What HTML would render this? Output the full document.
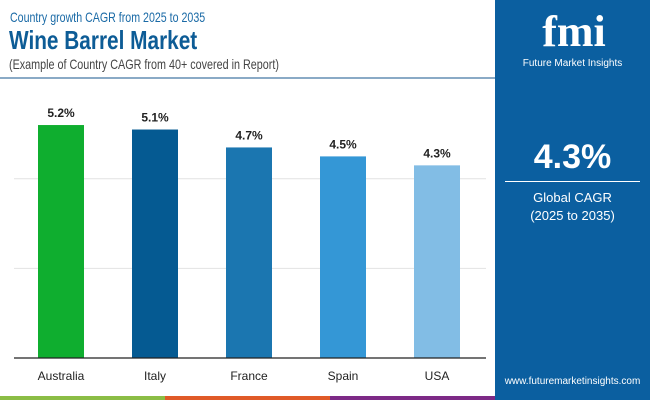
<!DOCTYPE html>
<html><head><meta charset="utf-8"><style>
body{margin:0;width:650px;height:400px;overflow:hidden;background:#fff;font-family:"Liberation Sans",sans-serif;position:relative}
.a{position:absolute}
.s{transform-origin:0 0;white-space:nowrap}
</style></head><body>
<div class="a s" style="left:10px;top:9px;font-size:14px;color:#1a6aa6;transform:scaleX(0.76)">Country growth CAGR from 2025 to 2035</div>
<div class="a s" style="left:9px;top:25px;font-size:26px;font-weight:bold;color:#0d5c96;transform:scaleX(0.8)">Wine Barrel Market</div>
<div class="a s" style="left:9px;top:56px;font-size:14px;color:#444;transform:scaleX(0.77)">(Example of Country CAGR from 40+ covered in Report)</div>
<div class="a" style="left:0;top:77px;width:495px;height:2px;background:#8aaac6"></div>
<div class="a" style="left:495px;top:0;width:155px;height:400px;background:#0b5fa0"></div>
<div class="a" style="left:518px;top:8px;width:112px;text-align:center;color:#fff;font-size:44px;font-weight:bold;font-family:'Liberation Serif',serif;line-height:48px">fmi</div>
<div class="a" style="left:505px;top:58px;width:135px;text-align:center;color:#fff;font-size:10px">Future Market Insights</div>
<div class="a" style="left:495px;top:138px;width:155px;text-align:center;color:#fff;font-size:34px;font-weight:bold">4.3%</div>
<div class="a" style="left:505px;top:181px;width:135px;height:1px;background:#fff"></div>
<div class="a" style="left:495px;top:189px;width:155px;text-align:center;color:#fff;font-size:13px;line-height:18px">Global CAGR<br>(2025 to 2035)</div>
<div class="a" style="left:495px;top:376px;width:155px;text-align:center;color:#fff;font-size:10px">www.futuremarketinsights.com</div>
<div class="a" style="left:0;top:396px;width:165px;height:4px;background:#8bbd45"></div>
<div class="a" style="left:165px;top:396px;width:165px;height:4px;background:#e05a28"></div>
<div class="a" style="left:330px;top:396px;width:165px;height:4px;background:#7d2a86"></div>
<svg class="a" style="left:0;top:0" width="495" height="396">
<g id="g"></g>
</svg>
<script>
const categories=["Australia","Italy","France","Spain","USA"];
const values=[5.2,5.1,4.7,4.5,4.3];
const labels=["5.2%","5.1%","4.7%","4.5%","4.3%"];
const colors=["#0fae2f","#055a92","#1b76b0","#3497d6","#82bde5"];
const gridVals=[2,4];
const NS="http://www.w3.org/2000/svg",g=document.getElementById('g');
const base=358,ppu=44.8;
const y=v=>base-v*ppu, x=i=>61+i*94;
function mk(t,a){const e=document.createElementNS(NS,t);for(const k in a)e.setAttribute(k,a[k]);g.appendChild(e);return e;}
gridVals.forEach(v=>{const l=mk('line',{x1:14,x2:486,y1:y(v),y2:y(v),stroke:'#e2e2e2','stroke-width':1});

});
values.forEach((v,i)=>{
const r=mk('rect',{x:x(i)-23,y:y(v),width:46,height:v*ppu,fill:colors[i]});


const t=mk('text',{x:x(i),y:y(v)-8,'text-anchor':'middle','font-size':12,'font-weight':'bold',fill:'#222'});t.textContent=labels[i];


const c=mk('text',{x:x(i),y:380,'text-anchor':'middle','font-size':12,fill:'#222'});c.textContent=categories[i];


});
const ax=mk('line',{x1:14,x2:486,y1:base,y2:base,stroke:'#222','stroke-width':1.2});


</script>
</body></html>
